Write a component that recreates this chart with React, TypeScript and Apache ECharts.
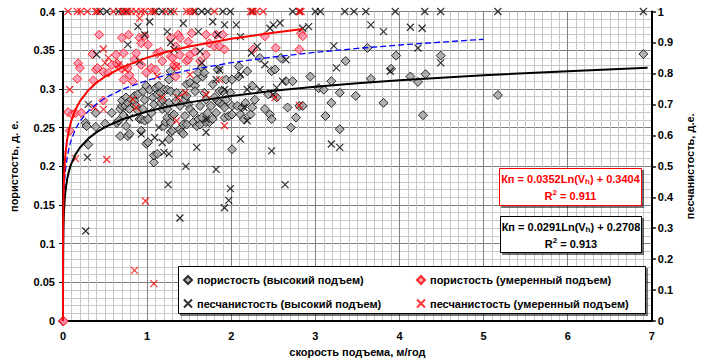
import React, { useEffect, useRef } from "react";
import * as echarts from "echarts";

// ---------- DATA ----------
// пористость (высокий подъем): [скорость, пористость]
const porosityHigh: number[][] = [
  [0, 0], [0.27, 0.256], [0.28, 0.252], [0.3, 0.228], [0.39, 0.251], [0.39, 0.269], [0.5, 0.255],
  [0.58, 0.269], [0.64, 0.256], [0.66, 0.259], [0.68, 0.239], [0.68, 0.274], [0.7, 0.278],
  [0.7, 0.285], [0.72, 0.266], [0.74, 0.278], [0.75, 0.289], [0.75, 0.252], [0.77, 0.282],
  [0.77, 0.239], [0.79, 0.274], [0.79, 0.242], [0.81, 0.286], [0.85, 0.291], [0.85, 0.284],
  [0.87, 0.278], [0.89, 0.293], [0.89, 0.272], [0.91, 0.261], [0.93, 0.261], [0.93, 0.246],
  [0.95, 0.297], [0.95, 0.274], [0.97, 0.259], [0.97, 0.286], [0.99, 0.304], [0.99, 0.229],
  [1.01, 0.261], [1.01, 0.231], [1.03, 0.299], [1.05, 0.269], [1.07, 0.289], [1.08, 0.28],
  [1.08, 0.205], [1.08, 0.214], [1.1, 0.301], [1.12, 0.293], [1.12, 0.216], [1.14, 0.304],
  [1.16, 0.295], [1.16, 0.282], [1.18, 0.286], [1.18, 0.274], [1.2, 0.252], [1.2, 0.299],
  [1.22, 0.257], [1.24, 0.299], [1.24, 0.274], [1.24, 0.263], [1.26, 0.312], [1.26, 0.282],
  [1.26, 0.235], [1.28, 0.323], [1.28, 0.297], [1.28, 0.257], [1.28, 0.244], [1.3, 0.265],
  [1.3, 0.246], [1.32, 0.267], [1.34, 0.284], [1.35, 0.295], [1.39, 0.278], [1.39, 0.248],
  [1.41, 0.244], [1.43, 0.293], [1.43, 0.254], [1.43, 0.242], [1.45, 0.286], [1.45, 0.265],
  [1.47, 0.306], [1.47, 0.291], [1.47, 0.254], [1.49, 0.28], [1.51, 0.308], [1.51, 0.274],
  [1.55, 0.269], [1.55, 0.257], [1.57, 0.304], [1.57, 0.297], [1.59, 0.312], [1.59, 0.252],
  [1.61, 0.321], [1.61, 0.261], [1.63, 0.278], [1.63, 0.254], [1.65, 0.328], [1.65, 0.263],
  [1.66, 0.316], [1.68, 0.321], [1.68, 0.295], [1.7, 0.286], [1.7, 0.257], [1.72, 0.269],
  [1.74, 0.257], [1.76, 0.278], [1.78, 0.306], [1.78, 0.261], [1.8, 0.289], [1.82, 0.269],
  [1.84, 0.325], [1.84, 0.284], [1.86, 0.297], [1.86, 0.282], [1.9, 0.28], [1.9, 0.297],
  [1.92, 0.276], [1.92, 0.263], [1.94, 0.286], [1.94, 0.312], [1.97, 0.265], [1.99, 0.295],
  [2.01, 0.312], [2.01, 0.278], [2.01, 0.267], [2.01, 0.222], [2.07, 0.278], [2.09, 0.329],
  [2.09, 0.316], [2.11, 0.267], [2.13, 0.276], [2.15, 0.261], [2.17, 0.282], [2.19, 0.323],
  [2.23, 0.267], [2.25, 0.276], [2.25, 0.304], [2.28, 0.286], [2.34, 0.34], [2.4, 0.274],
  [2.44, 0.293], [2.46, 0.267], [2.48, 0.323], [2.48, 0.261], [2.52, 0.325], [2.54, 0.289],
  [2.59, 0.34], [2.65, 0.31], [2.67, 0.276], [2.71, 0.25], [2.73, 0.31], [2.77, 0.263],
  [2.81, 0.278], [2.85, 0.278], [2.94, 0.316], [3.04, 0.301], [3.1, 0.299], [3.12, 0.265],
  [3.19, 0.31], [3.19, 0.282], [3.29, 0.295], [3.29, 0.248], [3.36, 0.336], [3.48, 0.291],
  [3.62, 0.353], [3.66, 0.313], [3.81, 0.282], [3.9, 0.326], [3.96, 0.343], [4.13, 0.316],
  [4.22, 0.309], [4.28, 0.266], [4.31, 0.319], [4.49, 0.343], [5.17, 0.292], [6.9, 0.345],
];

// пористость (умеренный подъем)
const porosityModerate: number[][] = [
  [0, 0], [0.01, 0], [0.06, 0.27], [0.08, 0.246], [0.11, 0.267], [0.15, 0.269], [0.17, 0.313],
  [0.18, 0.333], [0.2, 0.327], [0.22, 0.269], [0.35, 0.345], [0.36, 0.311], [0.39, 0.325],
  [0.41, 0.327], [0.43, 0.37], [0.48, 0.322], [0.48, 0.285], [0.54, 0.321], [0.58, 0.331],
  [0.63, 0.344], [0.64, 0.333], [0.69, 0.327], [0.7, 0.366], [0.72, 0.346], [0.72, 0.312],
  [0.77, 0.327], [0.78, 0.37], [0.79, 0.318], [0.83, 0.31], [0.85, 0.338], [0.87, 0.346],
  [0.91, 0.366], [0.93, 0.359], [0.93, 0.331], [0.97, 0.368], [0.99, 0.321], [1.01, 0.357],
  [1.05, 0.327], [1.1, 0.325], [1.12, 0.346], [1.16, 0.348], [1.18, 0.336], [1.28, 0.366],
  [1.28, 0.342], [1.3, 0.34], [1.32, 0.331], [1.34, 0.355], [1.34, 0.316], [1.35, 0.329],
  [1.37, 0.37], [1.39, 0.366], [1.39, 0.344], [1.47, 0.336], [1.49, 0.361], [1.49, 0.338],
  [1.51, 0.344], [1.53, 0.372], [1.57, 0.348], [1.63, 0.336], [1.7, 0.344], [1.7, 0.37],
  [1.74, 0.359], [1.8, 0.355], [1.82, 0.37], [1.86, 0.355], [1.9, 0.37], [1.92, 0.351],
  [2.26, 0.351], [2.4, 0.368], [2.53, 0.353], [2.81, 0.351], [2.83, 0.372], [2.85, 0.368],
];

// песчанистость (высокий подъем): [скорость, песчанистость]
const sandHigh: number[][] = [
  [0.44, 1], [0.52, 1], [0.66, 1], [0.75, 1], [1.1, 1], [1.18, 1], [1.28, 1], [1.57, 1],
  [1.65, 1], [1.72, 1], [1.9, 1], [1.99, 1], [2.25, 1], [2.73, 1], [2.81, 1], [3.0, 1],
  [3.06, 1], [3.35, 1], [3.46, 1], [3.6, 1], [3.95, 1], [4.3, 1], [4.49, 1], [5.17, 1], [6.9, 1],
  [0.27, 0.291], [0.29, 0.529], [0.3, 0.7], [0.4, 0.861], [0.77, 0.893], [0.79, 0.657],
  [0.89, 0.951], [0.91, 0.839], [0.93, 0.604], [0.97, 0.925], [1.03, 0.967], [1.09, 0.593],
  [1.14, 0.625], [1.18, 0.577], [1.2, 0.545], [1.24, 0.935], [1.25, 0.441], [1.26, 0.54],
  [1.28, 0.9], [1.32, 0.877], [1.39, 0.333], [1.43, 0.962], [1.46, 0.5], [1.59, 0.561],
  [1.61, 0.935], [1.63, 0.871], [1.65, 0.834], [1.7, 0.652], [1.7, 0.61], [1.78, 0.967],
  [1.84, 0.925], [1.82, 0.78], [1.82, 0.49], [1.86, 0.812], [1.92, 0.957], [1.92, 0.748],
  [1.92, 0.366], [1.97, 0.39], [1.99, 0.428], [2.06, 0.957], [2.11, 0.919], [2.11, 0.796],
  [2.11, 0.588], [2.15, 0.69], [2.19, 0.748], [2.19, 0.647], [2.24, 0.866], [2.31, 0.887],
  [2.34, 0.748], [2.4, 0.828], [2.46, 0.946], [2.48, 0.55], [2.5, 0.957], [2.5, 0.732],
  [2.54, 0.754], [2.58, 0.963], [2.61, 0.775], [2.64, 0.441], [2.65, 0.844], [2.85, 0.946],
  [2.92, 0.951], [3.22, 0.889], [3.19, 0.572], [3.25, 0.818], [3.29, 0.561], [3.66, 0.957],
  [3.81, 0.935], [3.89, 0.807], [4.13, 0.949], [4.22, 0.882], [4.27, 0.946], [4.49, 0.834],
];

// песчанистость (умеренный подъем)
const sandModerate: number[][] = [
  [0.06, 1], [0.17, 1], [0.21, 1], [0.29, 1], [0.39, 1], [0.41, 1], [0.6, 1], [0.7, 1],
  [0.72, 1], [0.77, 1], [0.81, 1], [0.87, 1], [0.93, 1], [0.97, 1], [1.05, 1], [1.08, 1],
  [1.22, 1], [1.32, 1], [1.47, 1], [1.51, 1], [1.55, 1], [1.8, 1], [2.23, 1], [2.26, 1],
  [2.3, 1], [2.38, 1], [2.81, 1], [2.83, 1],
  [0.08, 0.748], [0.15, 0.525], [0.37, 0.69], [0.48, 0.879], [0.48, 0.684], [0.5, 0.834],
  [0.52, 0.522], [0.54, 0.85], [0.66, 0.828], [0.74, 0.812], [0.83, 0.716], [0.87, 0.69],
  [0.85, 0.164], [0.91, 0.978], [0.98, 0.388], [1.08, 0.121], [1.12, 0.791], [1.18, 0.722],
  [1.35, 0.823], [1.35, 0.647], [1.37, 0.722], [1.45, 0.738], [1.51, 0.796], [1.7, 0.732],
  [1.86, 0.78], [1.92, 0.631], [2.52, 0.722], [2.81, 0.697],
];

// Trend lines Kп = a·Ln(Vh) + b (left axis scale)
const fitModerate = { a: 0.0352, b: 0.3404, r2: 0.911, xMin: 0.00006, xMax: 2.85 };
const fitHigh = { a: 0.0291, b: 0.2708, r2: 0.913, xMin: 0.0001, xMax: 6.95 };
const fitSand = { a: 0.033, b: 0.311, xMin: 0.0001, xMax: 5.0 };
const trendX = [
  0.00006, 0.0001, 0.0002, 0.0005, 0.001, 0.002, 0.005, 0.01, 0.02, 0.03, 0.05, 0.075, 0.1,
  0.15, 0.2, 0.3, 0.4, 0.5, 0.7, 1, 1.25, 1.5, 2, 2.5, 3, 3.5, 4, 5, 6, 7,
];

const xTitle = "скорость подъема, м/год";
const yLeftTitle = "пористость, д. е.";
const yRightTitle = "песчанистость, д.е.";
const names = [
  "пористость (высокий подъем)",
  "пористость (умеренный подъем)",
  "песчанистость (высокий подъем)",
  "песчанистость (умеренный подъем)",
];

const FONT = '"Liberation Sans", Arial, sans-serif';
const CROSS = "path://M0 0L10 10M10 0L0 10";

function trend(f: { a: number; b: number; xMin: number; xMax: number }) {
  const xs = trendX.filter((x) => x >= f.xMin && x < f.xMax).concat([f.xMax]);
  return xs.map((x) => [x, Math.max(0, f.a * Math.log(x) + f.b)]);
}

function eqBox(
  f: { a: number; b: number; r2: number },
  x: number, y: number, w: number, h: number, color: string
) {
  const base = { fontSize: 11, fontWeight: "bold", fontFamily: FONT, fill: color };
  return {
    type: "group",
    children: [
      {
        type: "rect", z: 10,
        shape: { x, y, width: w, height: h },
        style: { fill: "#fff", stroke: color, lineWidth: 1, shadowColor: "rgba(0,0,0,0.55)", shadowOffsetX: 2, shadowOffsetY: 2, shadowBlur: 0 },
      },
      {
        type: "text", z: 11, x: x + w / 2, y: y + 10,
        style: {
          text: `{n|Кп = ${f.a.toFixed(4)}Ln(V}{s|h}{n|) + ${f.b.toFixed(4)}}`,
          align: "center", verticalAlign: "middle",
          rich: { n: base, s: { ...base, fontSize: 8, padding: [6, 0, 0, 0] } },
        },
      },
      {
        type: "text", z: 11, x: x + w / 2, y: y + 27,
        style: {
          text: `{n|R}{p|2}{n| = ${f.r2.toFixed(3)}}`,
          align: "center", verticalAlign: "middle",
          rich: { n: base, p: { ...base, fontSize: 8, padding: [0, 0, 6, 0] } },
        },
      },
    ],
  };
}

export default function App() {
  const ref = useRef<HTMLDivElement>(null);
  useEffect(() => {
    if (!ref.current) return;
    const chart = echarts.init(ref.current, undefined, { renderer: "svg" });
    const labelStyle = { color: "#000", fontWeight: "bold" as const, fontSize: 11, fontFamily: FONT };
    const legendText = { color: "#000", fontWeight: "bold" as const, fontSize: 11, fontFamily: FONT, lineHeight: 14 };
    chart.setOption({
      animation: false,
      backgroundColor: "#fff",
      grid: { left: 60, right: 40, top: 11.5, bottom: 38.7 },
      xAxis: {
        type: "value", min: 0, max: 7, interval: 1,
        name: xTitle, nameLocation: "middle", nameGap: 22,
        nameTextStyle: { ...labelStyle, fontSize: 11 },
        axisLine: { show: true, onZero: false, lineStyle: { color: "#000", width: 2 } },
        axisTick: { show: false },
        axisLabel: { ...labelStyle, margin: 9 },
        splitLine: { show: true, lineStyle: { color: "#808080", width: 1 } },
        minorTick: { show: false, splitNumber: 10 },
        minorSplitLine: { show: true, lineStyle: { color: "#c8c8c8", width: 1 } },
      },
      yAxis: [
        {
          type: "value", min: 0, max: 0.4, interval: 0.05, position: "left",
          name: yLeftTitle, nameLocation: "middle", nameGap: 44, nameRotate: 90,
          nameTextStyle: labelStyle,
          axisLine: { show: true, onZero: false, lineStyle: { color: "#000", width: 2 } },
          axisTick: { show: true, length: 4, lineStyle: { color: "#000", width: 1 } },
          axisLabel: { ...labelStyle, margin: 8 },
          splitLine: { show: true, lineStyle: { color: "#808080", width: 1 } },
          minorTick: { show: false, splitNumber: 5 },
          minorSplitLine: { show: true, lineStyle: { color: "#c8c8c8", width: 1 } },
        },
        {
          type: "value", min: 0, max: 1, interval: 0.1, position: "right",
          name: yRightTitle, nameLocation: "middle", nameGap: 28, nameRotate: 90,
          nameTextStyle: labelStyle,
          axisLine: { show: true, onZero: false, lineStyle: { color: "#000", width: 2 } },
          axisTick: { show: true, length: 4, lineStyle: { color: "#000", width: 1.5 } },
          axisLabel: { ...labelStyle, margin: 6 },
          splitLine: { show: false },
        },
      ],
      legend: [
        {
          left: 183, top: 273, orient: "vertical", itemGap: 9.5, itemWidth: 8, itemHeight: 8,
          padding: 0, z: 20, data: [names[0], names[2]], textStyle: legendText,
        },
        {
          left: 416, top: 273, orient: "vertical", itemGap: 9.5, itemWidth: 8, itemHeight: 8,
          padding: 0, z: 20, data: [names[1], names[3]], textStyle: legendText,
        },
      ],
      graphic: [
        {
          type: "rect", z: 10,
          shape: { x: 178.5, y: 266.5, width: 467, height: 47 },
          style: { fill: "#fff", stroke: "#000", lineWidth: 1, shadowColor: "rgba(0,0,0,0.55)", shadowOffsetX: 2, shadowOffsetY: 2, shadowBlur: 0 },
        },
        eqBox(fitModerate, 499.5, 168.5, 142, 37, "#ff0000"),
        eqBox(fitHigh, 500.5, 216.5, 141, 36, "#000000"),
      ],
      series: [
        {
          name: names[0], type: "scatter", yAxisIndex: 0, clip: false,
          symbol: "diamond", symbolSize: 9, data: porosityHigh,
          itemStyle: { color: "#a0a0a0", borderColor: "#000", borderWidth: 1 },
        },
        {
          name: names[1], type: "scatter", yAxisIndex: 0, clip: false,
          symbol: "diamond", symbolSize: 9, data: porosityModerate,
          itemStyle: { color: "#ff88aa", borderColor: "#ff0000", borderWidth: 1 },
        },
        {
          name: names[2], type: "scatter", yAxisIndex: 1, clip: false,
          symbol: CROSS, symbolSize: 7, data: sandHigh,
          itemStyle: { color: "rgba(0,0,0,0)", borderColor: "#000", borderWidth: 1.2 },
        },
        {
          name: names[3], type: "scatter", yAxisIndex: 1, clip: false,
          symbol: CROSS, symbolSize: 7, data: sandModerate,
          itemStyle: { color: "rgba(0,0,0,0)", borderColor: "#ff0000", borderWidth: 1.2 },
        },
        {
          name: "trend-sand", type: "line", yAxisIndex: 0, showSymbol: false, data: trend(fitSand),
          lineStyle: { color: "#0000ff", width: 1.3, type: [6, 3] }, z: 5, silent: true,
        },
        {
          name: "trend-high", type: "line", yAxisIndex: 0, showSymbol: false, data: trend(fitHigh),
          lineStyle: { color: "#000", width: 2 }, z: 5, silent: true,
        },
        {
          name: "trend-moderate", type: "line", yAxisIndex: 0, showSymbol: false, data: trend(fitModerate),
          lineStyle: { color: "#ff0000", width: 2 }, z: 5, silent: true,
        },
      ],
    });
    return () => chart.dispose();
  }, []);
  return (
    <div
      ref={ref}
      style={{ position: "absolute", left: 0, top: 0, width: 703, height: 362, background: "#fff" }}
    />
  );
}
